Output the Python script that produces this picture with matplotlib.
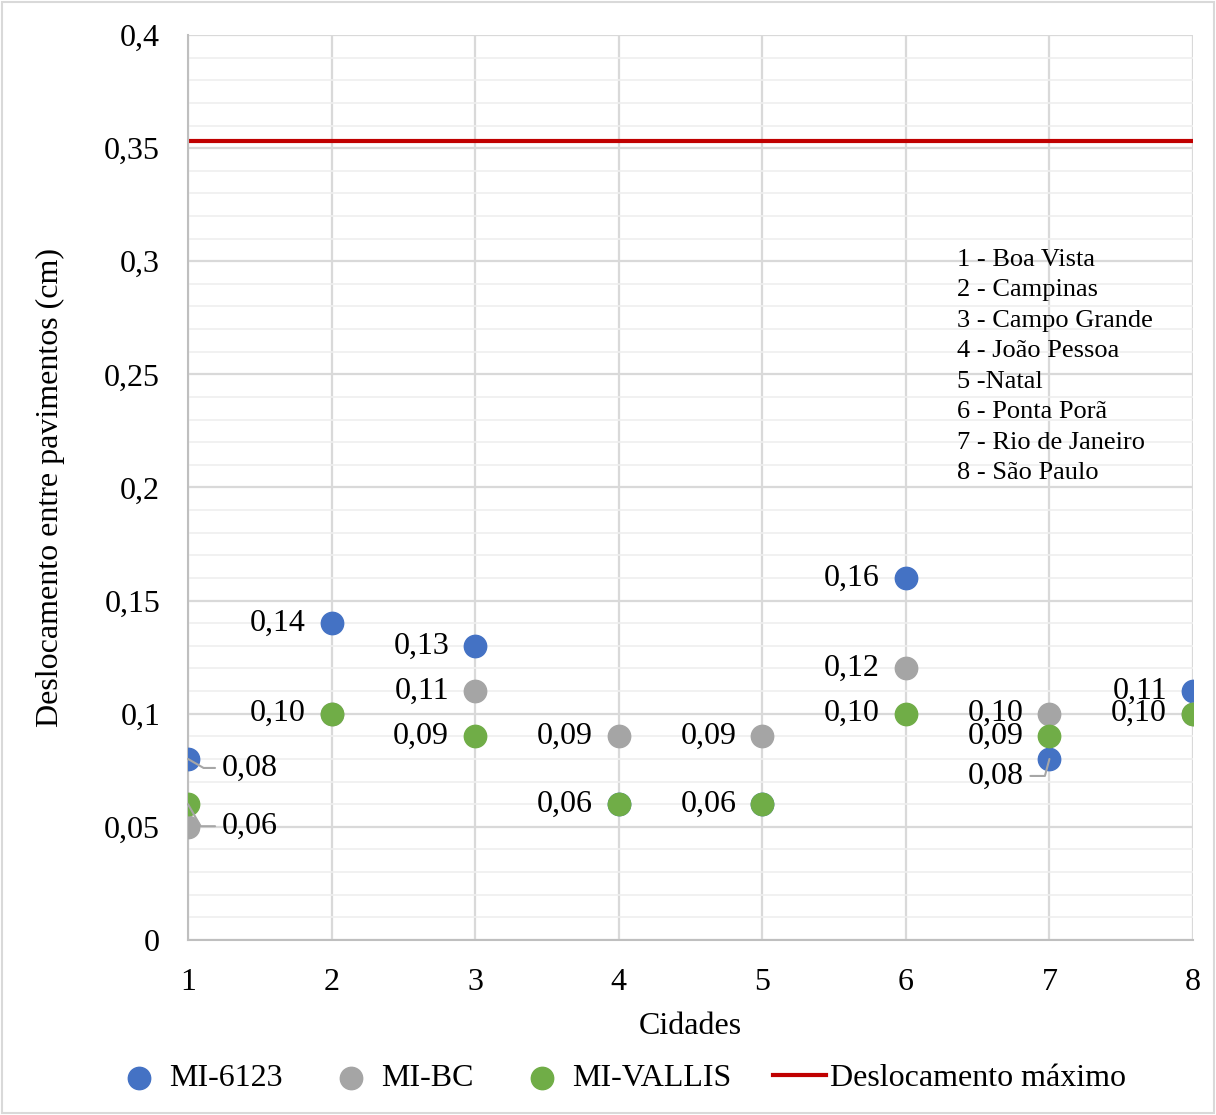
import matplotlib.pyplot as plt
from matplotlib.ticker import MultipleLocator, FuncFormatter
from matplotlib.patches import Rectangle

plt.rcParams['font.family'] = ['Liberation Serif', 'DejaVu Serif']

cidades = [1, 2, 3, 4, 5, 6, 7, 8]
mi_6123 = [0.08, 0.14, 0.13, 0.06, 0.06, 0.16, 0.08, 0.11]
mi_bc = [0.05, 0.10, 0.11, 0.09, 0.09, 0.12, 0.10, 0.10]
mi_vallis = [0.06, 0.10, 0.09, 0.06, 0.06, 0.10, 0.09, 0.10]
desl_max = 0.353
nomes = ['1 - Boa Vista', '2 - Campinas', '3 - Campo Grande', '4 - João Pessoa',
         '5 -Natal', '6 - Ponta Porã', '7 - Rio de Janeiro', '8 - São Paulo']

# which data labels are shown: (series, city index, dx px, dy px, leader angle)
rotulos = [
    ('a', 0, 34, -9, -30), ('c', 0, 34, -22, -60),
    ('a', 1, -26, 0, None), ('c', 1, -26, 0, None),
    ('a', 2, -26, 0, None), ('b', 2, -26, 0, None), ('c', 2, -26, 0, None),
    ('b', 3, -26, 0, None), ('c', 3, -26, 0, None),
    ('b', 4, -26, 0, None), ('c', 4, -26, 0, None),
    ('a', 5, -26, 0, None), ('b', 5, -26, 0, None), ('c', 5, -26, 0, None),
    ('b', 6, -26, 0, None), ('c', 6, -26, 0, None), ('a', 6, -26, -17, 75),
    ('a', 7, -26, 0, None), ('c', 7, -26, 0, None),
]

fs = 23

fig = plt.figure(figsize=(12.16, 11.15), dpi=100)
ax = fig.add_axes([0.1546, 0.157, 0.8265, 0.8116])

ax.yaxis.set_minor_locator(MultipleLocator(0.01))
ax.yaxis.set_major_locator(MultipleLocator(0.05))
ax.xaxis.set_major_locator(MultipleLocator(1))
ax.grid(True, which='minor', axis='y', color='#efefef', lw=1.2, zorder=0)
ax.grid(True, which='major', color='#d9d9d9', lw=1.6, zorder=0)
ax.set_axisbelow(True)

ax.axhline(desl_max, color='#C00000', lw=3, zorder=2, label='Deslocamento máximo')
s1 = ax.scatter(cidades, mi_6123, s=260, color='#4472C4', zorder=3, label='MI-6123')
s2 = ax.scatter(cidades, mi_bc, s=260, color='#A5A5A5', zorder=4, label='MI-BC')
s3 = ax.scatter(cidades, mi_vallis, s=260, color='#70AD47', zorder=5, label='MI-VALLIS')

series = {'a': mi_6123, 'b': mi_bc, 'c': mi_vallis}
for k, i, dx, dy, ang in rotulos:
    v = series[k][i]
    txt = ('%.2f' % v).replace('.', ',')
    if ang is not None:
        ha = 'left' if dx > 0 else 'right'
        ax.annotate(txt, (cidades[i], v), xytext=(dx, dy), textcoords='offset pixels',
                    ha=ha, va='center', fontsize=fs, zorder=6,
                    arrowprops=dict(arrowstyle='-', color='#a6a6a6', lw=1.5,
                                    connectionstyle='angle,angleA=0,angleB=%d,rad=0' % ang,
                                    shrinkA=3, shrinkB=0))
    else:
        ax.annotate(txt, (cidades[i], v), xytext=(dx, 0), textcoords='offset pixels',
                    ha='right', va='center', fontsize=fs, zorder=6)

ax.set_xlim(1, 8)
ax.set_ylim(0, 0.4)
ax.yaxis.set_major_formatter(FuncFormatter(lambda y, p: ('%g' % round(y, 2)).replace('.', ',')))
ax.tick_params(axis='both', which='both', length=0, labelsize=fs, pad=20)
for sp in ['top', 'right']:
    ax.spines[sp].set_visible(False)
for sp in ['left', 'bottom']:
    ax.spines[sp].set_color('#bfbfbf')
    ax.spines[sp].set_linewidth(1.5)

ax.set_xlabel('Cidades', fontsize=fs, labelpad=11)
ax.set_ylabel('Deslocamento entre pavimentos (cm)', fontsize=fs, labelpad=28)

ax.text(0.765, 0.764, '\n'.join(nomes), transform=ax.transAxes, fontsize=19,
        va='top', ha='left', linespacing=1.5)

handles = [s1, s2, s3, ax.lines[0]]
fig.legend(handles=handles, labels=[h.get_label() for h in handles], loc='center',
           bbox_to_anchor=(0.509, 0.033), ncol=4, frameon=False, fontsize=fs,
           handletextpad=0.12, columnspacing=1.3, handlelength=1.66, markerscale=1.0)

fig.patches.append(Rectangle((0.002, 0.002), 0.996, 0.996, transform=fig.transFigure,
                             fill=False, edgecolor='#d9d9d9', lw=1.5))

fig.savefig('out.png', dpi=100)
